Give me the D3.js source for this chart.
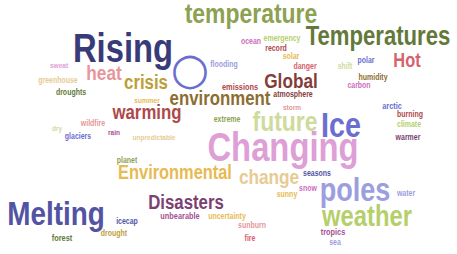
<!DOCTYPE html>
<html>
<head>
<meta charset="utf-8">
<script src="https://cdn.jsdelivr.net/npm/d3@7"></script>
<style>
  html, body { margin: 0; padding: 0; background: #fff; }
  svg { display: block; }
</style>
</head>
<body>
<div id="cloud"></div>
<script>
const width = 457;
const height = 254;

// tab20b-like palette used by the cloud
const palette = ["#393b79", "#5254a3", "#6b6ecf", "#9c9ede",
                 "#637939", "#8ca252", "#b5cf6b", "#cedb9c",
                 "#8c6d31", "#bd9e39", "#e7ba52", "#e7cb94",
                 "#843c39", "#ad494a", "#d6616b", "#e7969c",
                 "#7b4173", "#a55194", "#ce6dbd", "#de9ed6"];

// words, their weight (drives font size) and colour index
const words = ["Rising", "Changing", "Melting", "Ice", "poles", "weather",
  "temperature", "Temperatures", "future", "Global", "environment", "warming",
  "heat", "crisis", "Hot", "Environmental", "change", "Disasters",
  "sweat", "greenhouse", "droughts", "dry", "wildfire", "rain", "glaciers",
  "unpredictable", "planet", "summer", "extreme", "emissions", "atmosphere",
  "storm", "ocean", "emergency", "record", "solar", "danger", "flooding",
  "polar", "shift", "humidity", "carbon", "arctic", "burning", "climate",
  "warmer", "icecap", "drought", "forest", "unbearable", "uncertainty",
  "sunburn", "fire", "sunny", "snow", "seasons", "water", "tropics", "sea"];
const weights = [40, 40, 34, 35, 33, 29,
  28, 27, 28, 21, 20.5, 20.5,
  21, 20.5, 20, 20, 21, 20.5,
  8, 8.5, 8.5, 8, 8.5, 8, 8.5,
  8, 8.5, 8, 8.5, 9, 8.5,
  8, 8.5, 8.5, 8.5, 8.5, 8.5, 8.5,
  8.5, 8.5, 8.5, 8.5, 9, 8.5, 8.5,
  8.5, 8.5, 8.5, 9, 9, 8.5,
  8.5, 8.5, 8.5, 8.5, 8.5, 8.5, 9, 8.5];
const colors = [0, 19, 1, 2, 3, 6,
  5, 4, 7, 12, 8, 13,
  15, 9, 14, 10, 11, 16,
  19, 11, 4, 7, 15, 17, 2,
  11, 5, 10, 5, 13, 12,
  15, 18, 6, 13, 10, 14, 3,
  2, 7, 8, 18, 2, 13, 6,
  16, 1, 9, 4, 17, 10,
  15, 14, 10, 18, 1, 3, 17, 3];

// layout result (word centre x, baseline y), in cloud units
const posX = [123, 283, 56, 341, 355, 367,
  251, 378, 285, 291, 220, 147,
  104, 146, 407, 175, 269, 186,
  59, 58, 71, 57, 93, 114, 78,
  154, 127, 147, 227, 240, 293,
  292, 251, 282, 276, 291, 305, 224,
  366, 345, 373, 359, 392, 410, 409,
  408, 127, 114, 62, 180, 227,
  252, 250, 287, 308, 317, 406, 333, 335];
const posY = [62, 161, 225, 137, 201, 226,
  23, 45, 131, 88, 105, 119,
  80, 89, 67, 179, 184, 209,
  68, 83, 95, 131, 126, 135, 139,
  140, 163, 103, 122, 90, 97,
  110, 44, 41, 51, 59, 69, 67,
  63, 69, 80, 88, 109, 117, 127,
  140, 224, 236, 241, 219, 219,
  228, 241, 197, 191, 176, 196, 235, 245];

const data = words.map((w, i) => ({
  text: w, weight: weights[i], color: palette[colors[i]], x: posX[i], y: posY[i]
}));

const xScale = d3.scaleLinear().domain([0, 457]).range([0, width]);
const yScale = d3.scaleLinear().domain([0, 254]).range([0, height]);
const sizeScale = d3.scaleLinear().domain([0, 40]).range([0, 40]);

// narrow bold face: squeeze the regular bold sans horizontally
const narrow = 0.82;

const svg = d3.select("#cloud")
  .append("svg")
    .attr("width", width)
    .attr("height", height)
    .attr("viewBox", [0, 0, width, height]);

svg.append("rect")
  .attr("width", width)
  .attr("height", height)
  .attr("fill", "#fff");

svg.append("g")
    .attr("class", "words")
  .selectAll("text")
  .data(data)
  .join("text")
    .attr("transform", d => `translate(${xScale(d.x)}, ${yScale(d.y)}) scale(${narrow}, 1)`)
    .attr("text-anchor", "middle")
    .style("font-family", "'Liberation Sans', Arial, sans-serif")
    .style("font-weight", "bold")
    .style("font-size", d => `${sizeScale(d.weight)}px`)
    .attr("fill", d => d.color)
    .text(d => d.text);

// the hollow ring glyph placed in the cloud
svg.append("text")
    .attr("x", xScale(190))
    .attr("y", yScale(84))
    .attr("text-anchor", "middle")
    .style("font-family", "'DejaVu Sans', sans-serif")
    .style("font-size", "44px")
    .attr("fill", palette[2])
    .text("○");
</script>
</body>
</html>
